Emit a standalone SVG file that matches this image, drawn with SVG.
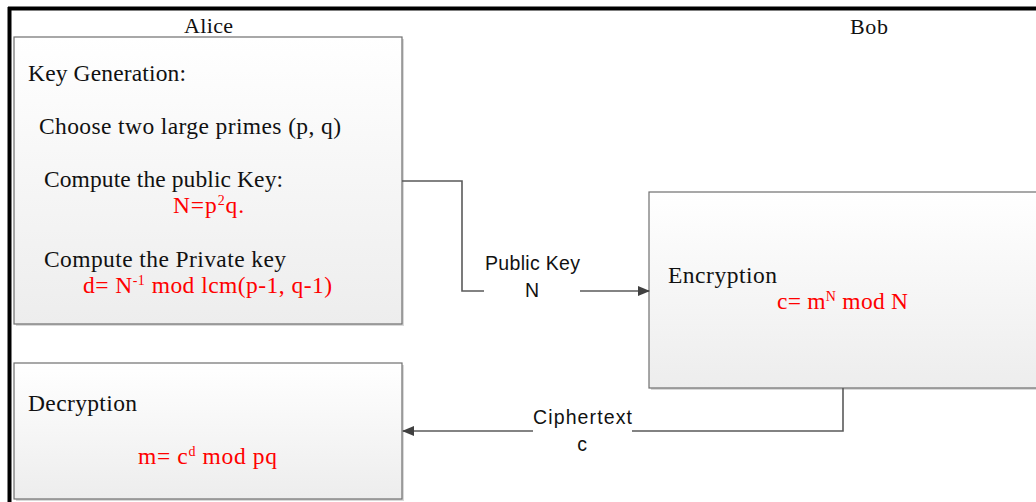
<svg xmlns="http://www.w3.org/2000/svg" width="1036" height="502" viewBox="0 0 1036 502">
<style>
.box{fill:url(#g);stroke:#6f6f6f;stroke-width:1.2}
.sh{fill:#d9d9d9}
.t{font-family:"Liberation Serif","Times New Roman",serif;font-size:23.5px;fill:#111}
.r{fill:#ff0000}
.hd{font-family:"Liberation Serif","Times New Roman",serif;font-size:22px;fill:#111}
.lb{font-family:"Liberation Sans",Arial,sans-serif;font-size:19.5px;fill:#111}
.ln{fill:none;stroke:#5a5a5a;stroke-width:1.6}
.sup{font-size:14px}
</style>
<defs>
<linearGradient id="g" x1="0" y1="0" x2="0" y2="1">
<stop offset="0" stop-color="#ffffff"/>
<stop offset="1" stop-color="#ededed"/>
</linearGradient>
<marker id="ah" markerWidth="12" markerHeight="10" refX="11" refY="5" orient="auto" markerUnits="userSpaceOnUse">
<path d="M0,0 L12,5 L0,10 Z" fill="#404040"/>
</marker>
</defs>
<rect width="1036" height="502" fill="#ffffff"/>
<g id="frame">
<line x1="8" y1="8.5" x2="1036" y2="8.5" stroke="#000" stroke-width="4"/>
<line x1="9.5" y1="7" x2="9.5" y2="502" stroke="#000" stroke-width="4"/>
</g>
<text class="hd" x="184" y="33" textLength="49">Alice</text>
<text class="hd" x="850" y="34" textLength="38">Bob</text>
<g id="keygen">
<rect class="sh" x="16" y="39" width="388" height="287"/>
<rect class="box" x="14" y="37" width="388" height="287"/>
<text class="t" x="28" y="81" textLength="158">Key Generation:</text>
<text class="t" x="39" y="134" textLength="302">Choose two large primes (p, q)</text>
<text class="t" x="44" y="187" textLength="239">Compute the public Key:</text>
<text class="t r" x="173" y="213" textLength="71">N=p<tspan class="sup" dy="-8">2</tspan><tspan dy="8">q.</tspan></text>
<text class="t" x="44" y="267" textLength="242">Compute the Private key</text>
<text class="t r" x="83" y="293" textLength="249">d= N<tspan class="sup" dy="-8">-1</tspan><tspan dy="8"> mod lcm(p-1, q-1)</tspan></text>
</g>
<g id="encryption">
<rect class="sh" x="651" y="194" width="390" height="196"/>
<rect class="box" x="649" y="192" width="392" height="196"/>
<text class="t" x="668" y="283" textLength="109">Encryption</text>
<text class="t r" x="777" y="309" textLength="131">c= m<tspan class="sup" dy="-8">N</tspan><tspan dy="8"> mod N</tspan></text>
</g>
<g id="decryption">
<rect class="sh" x="16" y="365" width="388" height="136"/>
<rect class="box" x="14" y="363" width="388" height="136"/>
<text class="t" x="28" y="411" textLength="109">Decryption</text>
<text class="t r" x="138" y="464" textLength="139">m= c<tspan class="sup" dy="-8">d</tspan><tspan dy="8"> mod pq</tspan></text>
</g>
<g id="connectors">
<path class="ln" d="M402,181 H462 V291 H484"/>
<path class="ln" d="M580,291 H649" marker-end="url(#ah)"/>
<text class="lb" x="485" y="270" textLength="95">Public Key</text>
<text class="lb" x="532" y="297" text-anchor="middle">N</text>
<path class="ln" d="M843,388 V431 H632"/>
<path class="ln" d="M533,431 H403" marker-end="url(#ah)"/>
<text class="lb" x="533" y="424" textLength="99">Ciphertext</text>
<text class="lb" x="582" y="451" text-anchor="middle">c</text>
</g>
</svg>
